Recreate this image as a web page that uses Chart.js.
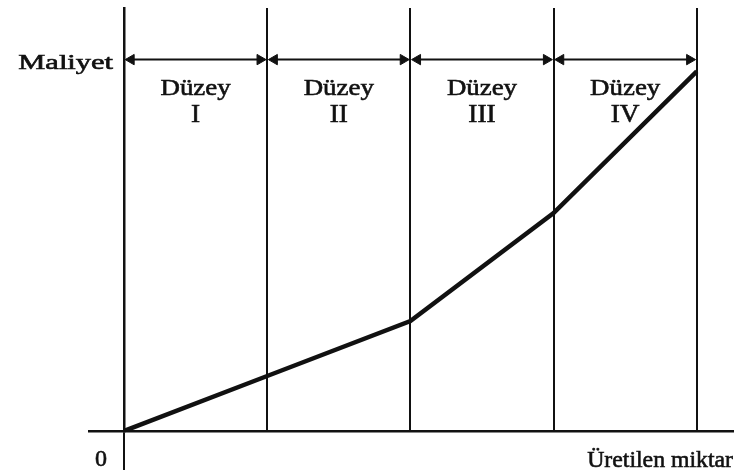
<!DOCTYPE html>
<html>
<head>
<meta charset="utf-8">
<script src="https://cdn.jsdelivr.net/npm/chart.js@4"></script>
<style>
  html, body { margin: 0; padding: 0; background: #fff; }
  #wrap { width: 734px; height: 476px; }
</style>
</head>
<body>
<div id="wrap"><canvas id="costChart" width="734" height="476"></canvas></div>
<script>
// level boundaries on the x axis (0 = origin)
const levels = [0, 1, 2, 3, 4];
const levelNames = ["I", "II", "III", "IV"];
// cost at each level boundary
const cost = [0, 1.3, 2.6, 5.15, 8.5];
// height of the double arrows marking each level
const arrowLevel = 8.78;

const yLabel = "Maliyet";
const xLabel = "Üretilen miktar";
const levelWord = "Düzey";

const ink = "#111";
const font = "'Liberation Serif', 'DejaVu Serif', serif";

document.addEventListener("DOMContentLoaded", function () {
  const ctx = document.getElementById("costChart").getContext("2d");

  const datasets = [];
  // the cost curve
  datasets.push({
    data: levels.map((v, i) => ({ x: v, y: cost[i] })),
    borderColor: ink,
    borderWidth: 4.5,
    pointRadius: 0,
    tension: 0,
  });
  // one double-headed arrow per level
  for (let i = 0; i < levelNames.length; i++) {
    datasets.push({
      data: [
        { x: levels[i] + 0.05, y: arrowLevel },
        { x: levels[i + 1] - 0.05, y: arrowLevel },
      ],
      borderColor: ink,
      backgroundColor: ink,
      borderWidth: 2,
      pointStyle: "triangle",
      pointRotation: [-90, 90],
      pointRadius: 6,
      pointBorderWidth: 1,
    });
  }

  // scanned type looks wide and heavy, so stretch a little and thicken
  function drawText(c, text, x, y, size, sx, align) {
    c.save();
    c.font = size + "px " + font;
    c.textAlign = align;
    c.textBaseline = "alphabetic";
    c.translate(x, y);
    c.scale(sx, 1);
    c.lineWidth = 0.6;
    c.strokeStyle = ink;
    c.fillText(text, 0, 0);
    c.strokeText(text, 0, 0);
    c.restore();
  }

  // text labels drawn with the chart
  const labelsPlugin = {
    id: "labels",
    afterDraw(chart) {
      const c = chart.ctx;
      const x = chart.scales.x;
      const y = chart.scales.y;
      const ay = y.getPixelForValue(arrowLevel);
      const by = y.getPixelForValue(0);
      c.save();
      c.fillStyle = ink;

      drawText(c, yLabel, x.getPixelForValue(0) - 11, ay + 9, 21, 1.45, "right");

      for (let i = 0; i < levelNames.length; i++) {
        const cx = x.getPixelForValue((levels[i] + levels[i + 1]) / 2);
        drawText(c, levelWord, cx, ay + 35, 24, 1.12, "center");
        drawText(c, levelNames[i], cx, ay + 62, 26, 1.05, "center");
      }

      drawText(c, "0", x.getPixelForValue(0) - 23, by + 35, 24, 1.0, "center");
      drawText(c, xLabel, 733, by + 36, 24, 0.99, "right");
      c.restore();
    },
  };

  new Chart(ctx, {
    type: "line",
    data: { datasets: datasets },
    plugins: [labelsPlugin],
    options: {
      responsive: false,
      animation: false,
      layout: { autoPadding: false, padding: { top: 8, right: 0, left: 0, bottom: 0 } },
      plugins: { legend: { display: false }, tooltip: { enabled: false } },
      scales: {
        x: {
          type: "linear",
          min: 0,
          max: 4.26,
          afterBuildTicks: (s) => { s.ticks = levels.map((v) => ({ value: v })); },
          afterFit: (s) => { s.height = 45; },
          ticks: { display: false },
          grid: {
            color: ink,
            lineWidth: 2,
            tickLength: 39,
            tickColor: (c) => (c.tick && c.tick.value === 0 ? ink : "rgba(0,0,0,0)"),
          },
          border: { display: true, color: ink, width: 2.5 },
        },
        y: {
          type: "linear",
          min: 0,
          max: 10,
          afterBuildTicks: (s) => { s.ticks = [{ value: 0 }]; },
          afterFit: (s) => { s.width = 124; },
          ticks: { display: false },
          grid: {
            drawOnChartArea: false,
            tickLength: 36,
            tickColor: ink,
            lineWidth: 2.5,
          },
          border: { display: true, color: ink, width: 2.5 },
        },
      },
    },
  });
});
</script>
</body>
</html>
